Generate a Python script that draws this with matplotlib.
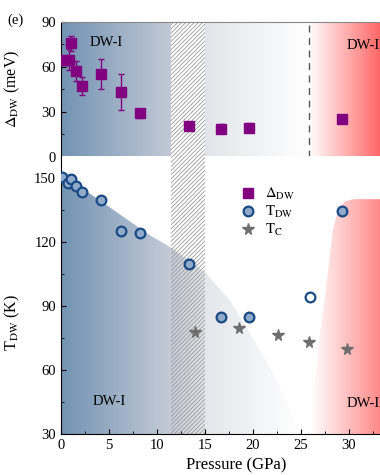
import numpy as np
import matplotlib
matplotlib.use("Agg")
import matplotlib.pyplot as plt
from matplotlib.colors import LinearSegmentedColormap
from matplotlib.patches import Polygon
from matplotlib.lines import Line2D
from matplotlib.ticker import MultipleLocator

plt.rcParams['font.family'] = ['Liberation Serif', 'DejaVu Serif']
plt.rcParams['mathtext.fontset'] = 'stix'
plt.rcParams['hatch.linewidth'] = 0.6

# gap Delta_DW (meV)
p_gap = [0.35, 0.8, 1.0, 1.6, 2.2, 4.2, 6.2, 8.2, 13.3, 16.7, 19.6, 29.3]
gap = [64.3, 64.7, 75.8, 57.5, 46.9, 55.1, 42.9, 29.0, 20.5, 18.7, 19.3, 25.3]
err_gap = [3, 7, 5, 6.7, 6, 10, 12, 3, 1.5, 3, 3, 1]

# T_DW (K)
p_tdw = [0.1, 0.75, 1.0, 1.6, 2.2, 4.2, 6.2, 8.2, 13.3, 16.7, 19.6, 29.3]
tdw = [150.5, 147.8, 149.4, 146.0, 143.3, 139.6, 125.2, 124.3, 109.8, 84.8, 84.8, 134.3]
p_abierto = [25.9]
t_abierto = [94.4]

# T_c (K)
p_tc = [14.0, 18.5, 22.6, 25.8, 29.8]
tc = [77.8, 79.8, 76.2, 72.9, 69.7]

# bordes de las regiones sombreadas
borde_azul_p = [0, 9.3, 11.4, 15.0, 17.6, 19.7, 22.1, 24.6, 25.0, 0]
borde_azul_t = [152, 123, 117.5, 105.8, 92.6, 77.1, 58.5, 33.3, 30, 30]
borde_rojo_p = [25.9, 26.1, 26.8, 27.7, 28.3, 28.9, 29.6, 30.5, 36, 36]
borde_rojo_t = [30, 39.8, 70.6, 102, 125, 135.5, 139, 140, 140, 30]

azul = LinearSegmentedColormap.from_list(
    'azul', [(0, '#7393b3'), (0.45, '#c3cad6'), (0.6, '#e4e6eb'), (1, '#ffffff')])
rojo = LinearSegmentedColormap.from_list('rojo', ['#ffffff', '#ff4040'])
rojo2 = LinearSegmentedColormap.from_list('rojo2', ['#ffffff', '#ff5a5a'])

W, H = 380, 475
fig = plt.figure(figsize=(W / 100, H / 100), dpi=100)
ax1 = fig.add_axes([61 / W, (H - 156.5) / H, 336 / W, (156.5 - 22) / H])
ax2 = fig.add_axes([61 / W, (H - 434) / H, 336 / W, (434 - 156.5) / H])


def gradiente(ax, x0, x1, y0, y1, cmap, clip=None):
    g = np.linspace(0, 1, 256).reshape(1, -1)
    im = ax.imshow(g, extent=[x0, x1, y0, y1], aspect='auto', cmap=cmap,
                   zorder=0, interpolation='bicubic')
    if clip is not None:
        im.set_clip_path(clip)


# panel superior
gradiente(ax1, 0, 25.8, 0, 90, azul)
gradiente(ax1, 25.8, 35, 0, 90, rojo)
ax1.axvspan(11.5, 15, facecolor='white', edgecolor='#9a9a9a',
            hatch='////////', lw=0, zorder=1)
ax1.axvline(25.8, color='#555555', ls=(0, (5, 4)), lw=1, zorder=2)
ax1.errorbar(p_gap, gap, yerr=err_gap, fmt='s', color='#800080', ms=6.5,
             capsize=2, elinewidth=1, capthick=1, zorder=5)
ax1.text(4.7, 76.5, 'DW-I', fontsize=10.5, ha='center', va='center')
ax1.text(29.8, 74.5, 'DW-II', fontsize=10.5, ha='left', va='center')
ax1.set_xlim(0, 35)
ax1.set_ylim(0, 90)
ax1.set_yticks([0, 30, 60, 90])
ax1.yaxis.set_minor_locator(MultipleLocator(15))
ax1.tick_params(axis='x', bottom=False, labelbottom=False)
ax1.tick_params(axis='y', which='both', direction='in', labelsize=10.5)
ax1.tick_params(axis='y', which='major', length=3.5)
ax1.tick_params(axis='y', which='minor', length=2)
ax1.set_ylabel(r'$\Delta_{\rm DW}$ (meV)', fontsize=11.5)
ax1.yaxis.set_label_coords(-0.115, 0.5)
ax1.spines['top'].set_color('#888888')

# panel inferior
clip_azul = Polygon(list(zip(borde_azul_p, borde_azul_t)), closed=True,
                    transform=ax2.transData)
clip_rojo = Polygon(list(zip(borde_rojo_p, borde_rojo_t)), closed=True,
                    transform=ax2.transData)
gradiente(ax2, 0, 25, 30, 160, azul, clip_azul)
gradiente(ax2, 26, 36, 30, 160, rojo2, clip_rojo)
ax2.axvspan(11.5, 15, facecolor='none', edgecolor='#9a9a9a',
            hatch='////////', lw=0, zorder=1)
ax2.plot(p_tdw, tdw, 'o', ms=7, mfc='#8fabc9', mec='#1a4a85', mew=1.6, zorder=5)
ax2.plot(p_abierto, t_abierto, 'o', ms=7, mfc='white', mec='#1a4a85', mew=1.6,
         zorder=5)
ax2.plot(p_tc, tc, '*', ms=8.5, color='#6e6e6e', zorder=5)
ax2.text(5.0, 45, 'DW-I', fontsize=10.5, ha='center', va='center')
ax2.text(29.8, 44.5, 'DW-II', fontsize=10.5, ha='left', va='center')
ax2.set_xlim(0, 35)
ax2.set_ylim(30, 160)
ax2.set_xticks([0, 5, 10, 15, 20, 25, 30])
ax2.set_yticks([30, 60, 90, 120, 150])
ax2.xaxis.set_minor_locator(MultipleLocator(2.5))
ax2.yaxis.set_minor_locator(MultipleLocator(15))
ax2.tick_params(which='both', direction='in', labelsize=10.5)
ax2.tick_params(which='major', length=3.5)
ax2.tick_params(which='minor', length=2)
ax2.set_xlabel('Pressure (GPa)', fontsize=12)
ax2.xaxis.set_label_coords(0.52, -0.085)
ax2.set_ylabel(r'T$_{\rm DW}$ (K)', fontsize=11.5)
ax2.yaxis.set_label_coords(-0.115, 0.4)
ax2.spines['top'].set_visible(False)

simbolos = [
    Line2D([], [], ls='none', marker='s', ms=6.5, color='#800080'),
    Line2D([], [], ls='none', marker='o', ms=7, mfc='#8fabc9', mec='#1a4a85', mew=1.6),
    Line2D([], [], ls='none', marker='*', ms=8.5, color='#6e6e6e'),
]
ax2.legend(simbolos, [r'$\Delta_{\rm DW}$', r'$\rm T_{DW}$', r'$\rm T_C$'],
           loc='upper left', bbox_to_anchor=(0.49, 0.94), frameon=False,
           fontsize=10.5, handlelength=1.2, handletextpad=0.6, labelspacing=0.12)

fig.text(0.02, 0.958, '(e)', fontsize=10.5, va='center')

fig.savefig('out.png', dpi=100)
